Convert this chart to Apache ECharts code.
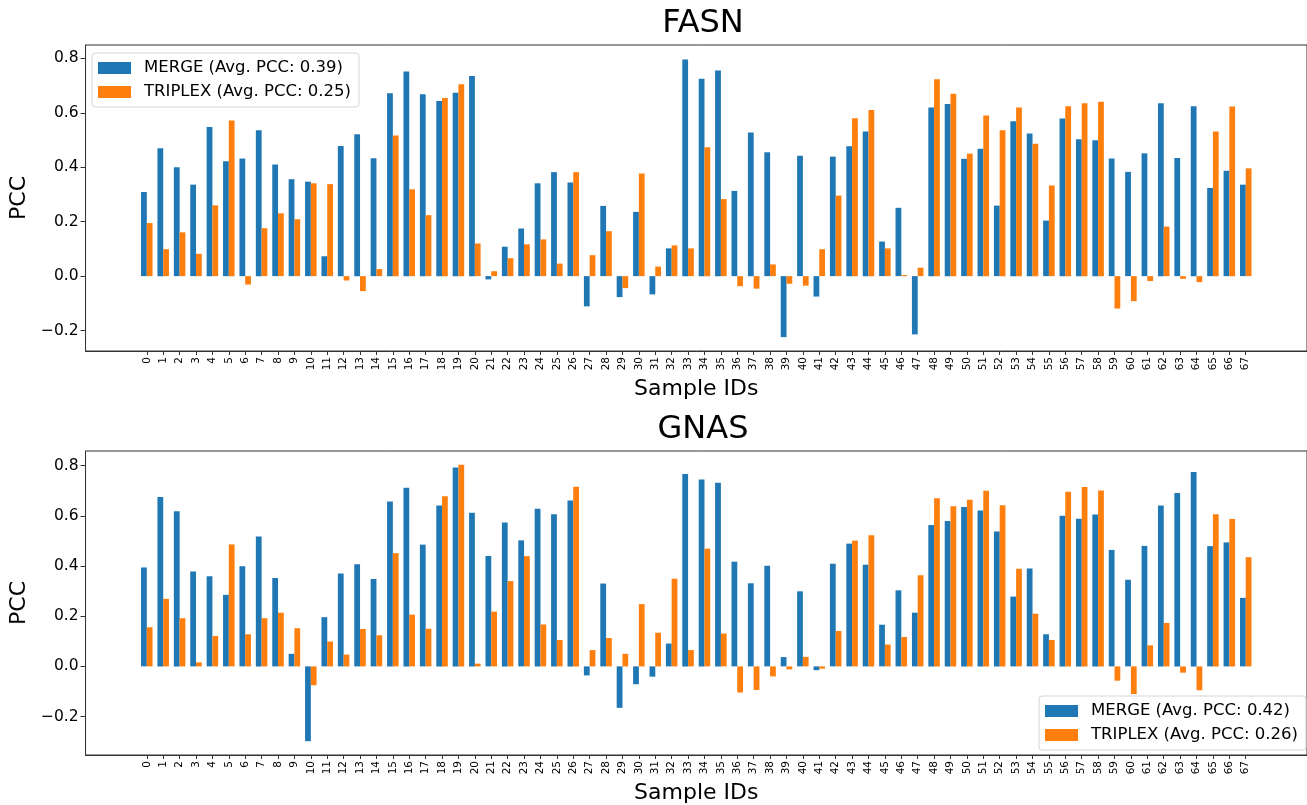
<!DOCTYPE html>
<html>
<head>
<meta charset="utf-8">
<script src="https://cdn.jsdelivr.net/npm/echarts@6/dist/echarts.min.js"></script>
<style>html,body{margin:0;padding:0;background:#fff;}#c{width:1307px;height:805px;}</style>
</head>
<body>
<div id="c"></div>
<script>
const sampleIds = Array.from({length: 68}, (_, i) => i);
const yTicks = [-0.2, 0.0, 0.2, 0.4, 0.6, 0.8];

const fasnMerge = [0.309,0.470,0.400,0.336,0.548,0.422,0.432,0.536,0.410,0.356,
  0.347,0.073,0.478,0.521,0.433,0.672,0.752,0.668,0.643,0.674,
  0.735,-0.012,0.108,0.175,0.341,0.382,0.344,-0.111,0.258,-0.077,
  0.236,-0.067,0.102,0.796,0.725,0.755,0.313,0.528,0.455,-0.224,
  0.442,-0.075,0.439,0.477,0.531,0.127,0.251,-0.214,0.619,0.632,
  0.431,0.468,0.259,0.569,0.524,0.204,0.579,0.503,0.499,0.432,
  0.383,0.451,0.635,0.434,0.624,0.324,0.387,0.336];
const fasnTriplex = [0.195,0.099,0.161,0.082,0.260,0.572,-0.031,0.176,0.231,0.209,
  0.341,0.338,-0.016,-0.055,0.026,0.517,0.319,0.224,0.654,0.705,
  0.120,0.018,0.066,0.117,0.135,0.046,0.382,0.077,0.165,-0.044,
  0.377,0.035,0.113,0.102,0.473,0.283,-0.037,-0.046,0.043,-0.028,
  -0.035,0.099,0.296,0.580,0.610,0.102,0.004,0.031,0.723,0.670,
  0.450,0.590,0.536,0.619,0.486,0.333,0.624,0.635,0.641,-0.119,
  -0.092,-0.018,0.182,-0.010,-0.022,0.531,0.623,0.396];
const gnasMerge = [0.394,0.675,0.618,0.378,0.359,0.285,0.399,0.517,0.352,0.050,
  -0.298,0.196,0.370,0.407,0.348,0.657,0.712,0.485,0.641,0.792,
  0.612,0.440,0.573,0.502,0.628,0.606,0.661,-0.036,0.330,-0.165,
  -0.071,-0.041,0.091,0.766,0.744,0.732,0.417,0.331,0.401,0.037,
  0.299,-0.015,0.409,0.489,0.405,0.166,0.303,0.214,0.563,0.579,
  0.635,0.621,0.537,0.278,0.390,0.128,0.600,0.588,0.605,0.464,
  0.345,0.480,0.641,0.691,0.774,0.479,0.494,0.273];
const gnasTriplex = [0.156,0.269,0.192,0.016,0.121,0.486,0.128,0.192,0.214,0.152,
  -0.075,0.099,0.047,0.149,0.124,0.451,0.206,0.150,0.678,0.803,
  0.011,0.218,0.340,0.439,0.167,0.105,0.716,0.065,0.113,0.050,
  0.248,0.134,0.349,0.065,0.469,0.131,-0.104,-0.094,-0.040,-0.012,
  0.038,-0.009,0.141,0.501,0.522,0.087,0.117,0.363,0.670,0.638,
  0.664,0.700,0.642,0.389,0.210,0.105,0.696,0.715,0.701,-0.057,
  -0.110,0.084,0.173,-0.025,-0.095,0.606,0.587,0.435];

const titles = ['FASN', 'GNAS'];
const legendTop = ['MERGE (Avg. PCC: 0.39)', 'TRIPLEX (Avg. PCC: 0.25)'];
const legendBottom = ['MERGE (Avg. PCC: 0.42)', 'TRIPLEX (Avg. PCC: 0.26)'];

const FONT = 'DejaVu Sans';
const BLUE = '#1f77b4', ORANGE = '#ff7f0e';
const W = 0.35;
const spine = '#333';

function pairs(vals, shift) { return vals.map((v, i) => [sampleIds[i] + shift, v]); }
function fmtY(v) { const s = v.toFixed(1); return s.replace('-', '\u2212'); }

function xAxis(gi) {
  return {
    type: 'value', gridIndex: gi, min: -3.735, max: 70.735,
    name: 'Sample IDs', nameLocation: 'middle', nameGap: 27,
    nameTextStyle: {fontFamily: FONT, fontSize: 22, color: '#000', verticalAlign: 'top'},
    axisLine: {show: true, onZero: false, lineStyle: {color: spine, width: 1}},
    axisTick: {show: true, length: 4, customValues: sampleIds, lineStyle: {color: spine}},
    axisLabel: {customValues: sampleIds, rotate: 90, fontSize: 10.5, fontFamily: FONT, color: '#000', margin: 6,
      formatter: v => String(Math.round(v))},
    splitLine: {show: false}
  };
}
function yAxis(gi, min, max) {
  return {
    type: 'value', gridIndex: gi, min: min, max: max,
    name: 'PCC', nameLocation: 'middle', nameGap: 48,
    nameTextStyle: {fontFamily: FONT, fontSize: 22, color: '#000'},
    axisLine: {show: true, onZero: false, lineStyle: {color: spine, width: 1}},
    axisTick: {show: true, length: 5, customValues: yTicks, lineStyle: {color: spine}},
    axisLabel: {customValues: yTicks, fontSize: 15.5, fontFamily: FONT, color: '#000', margin: 7, formatter: fmtY},
    splitLine: {show: false}
  };
}
function legend(names, pos) {
  return Object.assign({
    orient: 'vertical', icon: 'rect', itemWidth: 33, itemHeight: 12, itemGap: 6,
    padding: [6, 8, 6, 6],
    backgroundColor: 'rgba(255,255,255,0.8)', borderColor: '#d5d5d5', borderWidth: 1, borderRadius: 3,
    textStyle: {fontFamily: FONT, fontSize: 16.5, color: '#000', padding: [0, 0, 0, 8], lineHeight: 18},
    data: names, z: 10
  }, pos);
}
function bar(name, data, color, xi, yi) {
  return {type: 'bar', name: name, data: data, xAxisIndex: xi, yAxisIndex: yi,
    barWidth: 5.78, barGap: '-100%', itemStyle: {color: color}, animation: false};
}

const chart = echarts.init(document.getElementById('c'), null, {renderer: 'canvas'});
chart.setOption({
  animation: false,
  backgroundColor: '#fff',
  title: [
    {text: titles[0], left: 698, top: 3, textAlign: 'center', textStyle: {fontFamily: FONT, fontSize: 32, fontWeight: 'normal', color: '#000'}},
    {text: titles[1], left: 698, top: 409, textAlign: 'center', textStyle: {fontFamily: FONT, fontSize: 32, fontWeight: 'normal', color: '#000'}}
  ],
  grid: [
    {left: 83, right: -6.5, top: 45, height: 306, show: true, borderColor: spine, borderWidth: 1},
    {left: 83, right: -6.5, top: 451, height: 306, show: true, borderColor: spine, borderWidth: 1}
  ],
  xAxis: [xAxis(0), xAxis(1)],
  yAxis: [yAxis(0, -0.275, 0.849), yAxis(1, -0.353, 0.858)],
  legend: [
    legend(legendTop, {left: 92, top: 53}),
    legend(legendBottom, {right: 1, top: 696})
  ],
  series: [
    bar(legendTop[0], pairs(fasnMerge, -W / 2), BLUE, 0, 0),
    bar(legendTop[1], pairs(fasnTriplex, W / 2), ORANGE, 0, 0),
    bar(legendBottom[0], pairs(gnasMerge, -W / 2), BLUE, 1, 1),
    bar(legendBottom[1], pairs(gnasTriplex, W / 2), ORANGE, 1, 1)
  ]
});
</script>
</body>
</html>
